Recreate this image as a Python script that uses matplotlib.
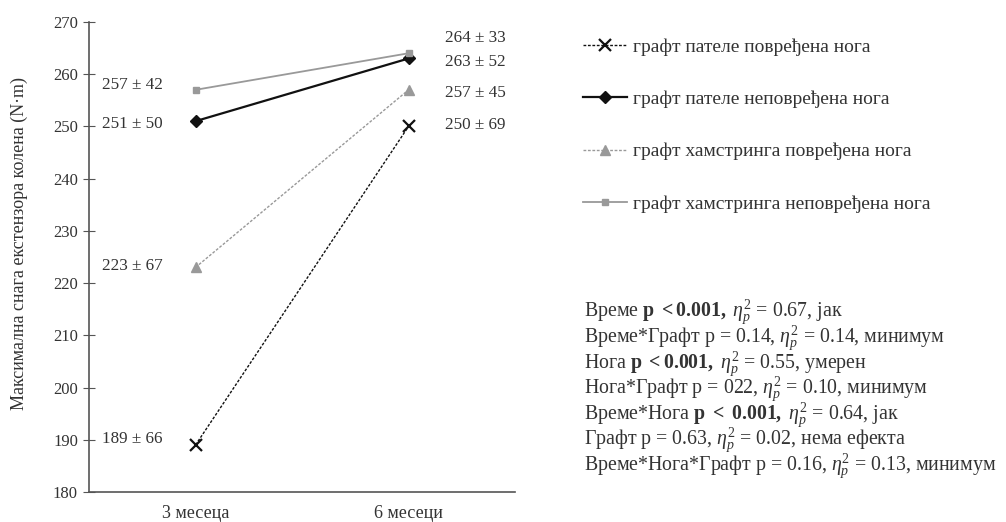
import matplotlib.pyplot as plt

plt.rcParams['font.family'] = ['Liberation Serif', 'DejaVu Serif']
plt.rcParams['mathtext.fontset'] = 'custom'
plt.rcParams['mathtext.rm'] = 'Liberation Serif'
plt.rcParams['mathtext.it'] = 'Liberation Serif:italic'
plt.rcParams['mathtext.bf'] = 'Liberation Serif:bold'

TXT = '#333333'

# time points and group means ± SD
times = ['3 месеца', '6 месеци']
pat_inj = [189, 250]
pat_inj_sd = [66, 69]
pat_uninj = [251, 263]
pat_uninj_sd = [50, 52]
ham_inj = [223, 257]
ham_inj_sd = [67, 45]
ham_uninj = [257, 264]
ham_uninj_sd = [42, 33]

labels = ['графт пателе повређена нога',
          'графт пателе неповређена нога',
          'графт хамстринга повређена нога',
          'графт хамстринга неповређена нога']

stats = [
    r'Време $\mathbf{p\ {<}0.001,}$ $\eta_p^2$ = 0.67, јак',
    r'Време*Графт p = 0.14, $\eta_p^2$ = 0.14, минимум',
    r'Нога $\mathbf{p\ {<}0.001,}$ $\eta_p^2$ = 0.55, умерен',
    r'Нога*Графт p = 022, $\eta_p^2$ = 0.10, минимум',
    r'Време*Нога $\mathbf{p\ {<}\ 0.001,}$ $\eta_p^2$ = 0.64, јак',
    r'Графт p = 0.63, $\eta_p^2$ = 0.02, нема ефекта',
    r'Време*Нога*Графт p = 0.16, $\eta_p^2$ = 0.13, минимум',
]

x = [0.5, 1.5]

fig = plt.figure(figsize=(10.06, 5.22), dpi=100)
ax = fig.add_axes([0.0885, 0.0575, 0.4235, 0.9005])

styles = [
    dict(color='#111111', ls=(0, (2, 1.2)), lw=1.0, marker='x', ms=8, mew=1.6),
    dict(color='#111111', ls='-', lw=1.6, marker='D', ms=6),
    dict(color='#999999', ls=(0, (2, 1.2)), lw=1.0, marker='^', ms=7),
    dict(color='#999999', ls='-', lw=1.3, marker='s', ms=5),
]
series = [pat_inj, pat_uninj, ham_inj, ham_uninj]
sds = [pat_inj_sd, pat_uninj_sd, ham_inj_sd, ham_uninj_sd]

handles = []
for ys, st, lab in zip(series, styles, labels):
    h, = ax.plot(x, ys, label=lab, **st)
    handles.append(h)

# mean ± SD labels beside each point (small nudges keep them apart)
left_off = [1.2, -0.6, 0.2, 0.9]
right_off = [0.2, -0.7, -0.6, 2.9]
for ys, sd, lo, ro in zip(series, sds, left_off, right_off):
    ax.text(x[0] - 0.155, ys[0] + lo, f'{ys[0]} ± {sd[0]}',
            ha='right', va='center', fontsize=12.3, color=TXT)
    ax.text(x[1] + 0.17, ys[1] + ro, f'{ys[1]} ± {sd[1]}',
            ha='left', va='center', fontsize=12.3, color=TXT)

ax.set_xlim(0, 2)
ax.set_ylim(180, 270)
ax.set_yticks(range(180, 271, 10))
ax.set_xticks(x)
ax.set_xticklabels(times, fontsize=13, color=TXT)
ax.tick_params(axis='x', length=0, pad=9.5)
ax.tick_params(axis='y', direction='inout', length=8, labelsize=12,
               labelcolor=TXT, color='#555555', pad=4)
for s in ['top', 'right']:
    ax.spines[s].set_visible(False)
for s in ['left', 'bottom']:
    ax.spines[s].set_color('#555555')
    ax.spines[s].set_linewidth(1.2)
ax.set_ylabel('Максимална снага екстензора колена (N·m)', fontsize=13,
              color=TXT)
ax.yaxis.set_label_coords(-0.143, 0.528)

fig.legend(handles=handles, loc='upper left', bbox_to_anchor=(0.562, 0.960),
           frameon=False, fontsize=14, labelspacing=1.78, handlelength=2.27,
           handletextpad=0.3, labelcolor=TXT)

for i, line in enumerate(stats):
    fig.text(0.581, 1 - (312 + i * 25.6) / 522, line, fontsize=14.3,
             color=TXT, va='center', ha='left')

fig.savefig('out.png', dpi=100)
